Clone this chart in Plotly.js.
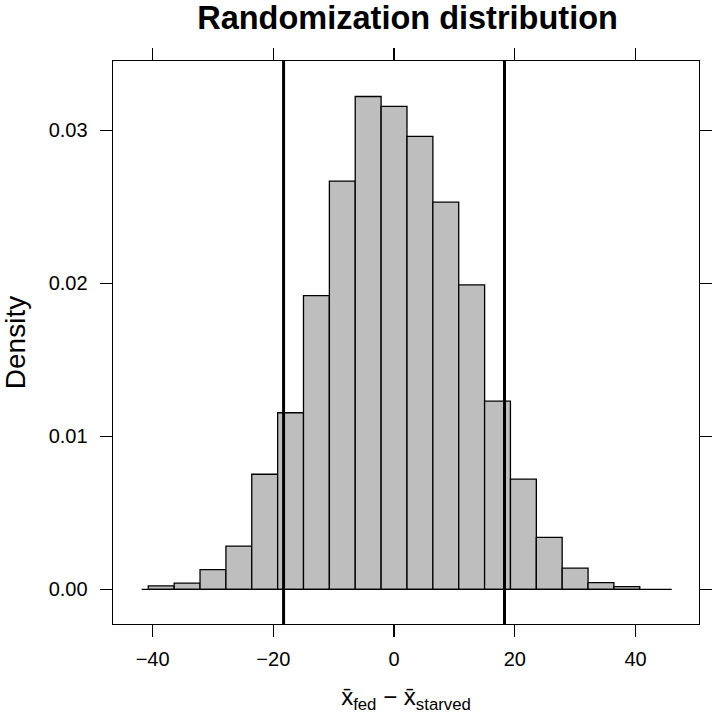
<!DOCTYPE html>
<html>
<head>
<meta charset="utf-8">
<script src="https://cdn.plot.ly/plotly-3.0.1.min.js"></script>
<style>html,body{margin:0;padding:0;background:#fff;}#chart{width:715px;height:715px;}</style>
</head>
<body>
<div id="chart"></div>
<script>
// Histogram bin centers (difference in means) and densities
const binCenters = [-38.57, -34.28, -30.0, -25.71, -21.43, -17.14, -12.86, -8.57, -4.29, 0,
                    4.29, 8.57, 12.86, 17.14, 21.43, 25.71, 30.0, 34.28, 38.57];
const density = [0.00023, 0.0004, 0.00129, 0.00283, 0.00752, 0.01154, 0.0192, 0.02668, 0.03221, 0.03156,
                 0.02961, 0.0253, 0.0199, 0.0123, 0.0072, 0.0034, 0.00138, 0.00044, 0.00018];
const binWidth = 4.285;
// Baseline extent of the histogram (zero-height ends)
const baselineX = [-41.8, 46.0];
const baselineY = [0, 0];
// Observed difference lines (±)
const observedLines = [-18.3, 18.3];
const xTicks = [-40, -20, 0, 20, 40];
const yTicks = [0, 0.01, 0.02, 0.03];
const yTickText = ["0.00", "0.01", "0.02", "0.03"];

const traces = [
  {
    type: 'scatter', mode: 'lines', x: baselineX, y: baselineY,
    line: {color: '#000', width: 1.3}, hoverinfo: 'skip', showlegend: false
  },
  {
    type: 'bar', x: binCenters, y: density, width: binWidth,
    marker: {color: '#bebebe', line: {color: '#000', width: 1.3}},
    showlegend: false
  }
];

const shapes = observedLines.map(v => ({
  type: 'line', xref: 'x', yref: 'paper', x0: v, x1: v, y0: 0, y1: 1,
  line: {color: '#000', width: 3}
}));

const font = 'Liberation Sans, Arial, Helvetica, sans-serif';
const layout = {
  width: 715, height: 715,
  margin: {l: 113, r: 16, t: 61, b: 91},
  paper_bgcolor: '#fff', plot_bgcolor: '#fff',
  font: {family: font, color: '#000'},
  title: {text: '<b>Randomization distribution</b>', font: {size: 32.5, family: font, color: '#000'},
          x: 0.57, xanchor: 'center', y: 0.975, yanchor: 'middle'},
  xaxis: {
    range: [-46.56, 50.52], tickvals: xTicks, ticks: 'outside', ticklen: 12, tickwidth: 1.4,
    tickcolor: '#000', showline: true, linecolor: '#000', linewidth: 1.4, mirror: 'ticks',
    showgrid: false, zeroline: false, tickfont: {size: 20, family: font}, ticklabelstandoff: 5,
    title: {text: 'x\u0304<sub>fed</sub> \u2212 x\u0304<sub>starved</sub>', font: {size: 24, family: font}, standoff: 18}
  },
  yaxis: {
    range: [-0.002266, 0.03453], tickvals: yTicks, ticktext: yTickText, ticks: 'outside', ticklen: 12, tickwidth: 1.4,
    tickcolor: '#000', showline: true, linecolor: '#000', linewidth: 1.4, mirror: 'ticks',
    showgrid: false, zeroline: false, tickfont: {size: 20, family: font}, ticklabelstandoff: 8,
    title: {text: 'Density', font: {size: 28, family: font}, standoff: 22}
  },
  shapes: shapes,
  bargap: 0
};

Plotly.newPlot('chart', traces, layout, {displayModeBar: false, staticPlot: true});
</script>
</body>
</html>
